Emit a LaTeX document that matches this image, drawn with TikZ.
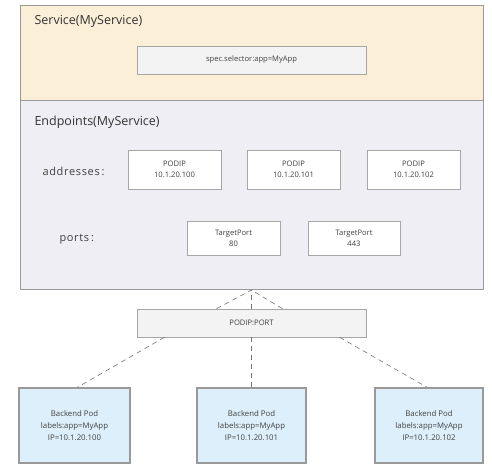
\documentclass[tikz,border=0pt]{standalone}
\usepackage{fontspec}
\setmainfont{Open Sans}
\definecolor{svcfill}{HTML}{FCEFD8}
\definecolor{epfill}{HTML}{EFEEF4}
\definecolor{podfill}{HTML}{DDEFFA}
\definecolor{boxgray}{HTML}{F3F3F3}
\begin{document}
\begin{tikzpicture}[x=1pt,y=-1pt,
  outer/.style={draw=black!40,line width=1.4pt},
  small/.style={draw=black!35,line width=0.6pt,fill=white,align=center,font=\fontsize{7.6}{11}\selectfont,text=black!75,inner sep=0pt},
  pod/.style={draw=black!40,line width=1.6pt,fill=podfill,align=center,font=\fontsize{7.8}{12}\selectfont,text=black!75,inner sep=0pt},
  title/.style={anchor=west,font=\fontsize{12.5}{14}\selectfont,text=black!80},
  lab/.style={anchor=west,font=\fontsize{11}{13}\selectfont\addfontfeature{LetterSpace=6},text=black!75},
  conn/.style={draw=black!55,dashed,dash pattern=on 5pt off 4pt,line width=0.6pt}]
\useasboundingbox (0,0) rectangle (492,470);
\fill[white] (0,0) rectangle (492,470);
\node[outer,fill=svcfill,minimum width=463pt,minimum height=95pt,anchor=north west,inner sep=0pt] (svc) at (20,5) {};
\node[outer,fill=epfill,minimum width=463pt,minimum height=189pt,anchor=north west,inner sep=0pt] (ep) at (20,100) {};
\node[title] (svct) at (31,21) {Service(MyService)};
\node[small,fill=boxgray,minimum width=229pt,minimum height=28pt] (sel) at (251.5,60) {spec.selector:app=MyApp};
\node[title] (ept) at (31,122) {Endpoints(MyService)};
\node[lab] (addr) at (39,171) {addresses\,:};
\node[small,minimum width=93pt,minimum height=39pt] (a1) at (174.5,169.5) {PODIP\\10.1.20.100};
\node[small,minimum width=93pt,minimum height=39pt] (a2) at (293.5,169.5) {PODIP\\10.1.20.101};
\node[small,minimum width=93pt,minimum height=39pt] (a3) at (413.5,169.5) {PODIP\\10.1.20.102};
\node[lab] (ports) at (56,239) {ports\,:};
\node[small,minimum width=93pt,minimum height=34pt] (p1) at (233.5,238) {TargetPort\\80};
\node[small,minimum width=92pt,minimum height=34pt] (p2) at (354,238) {TargetPort\\443};
\node[small,fill=boxgray,minimum width=229pt,minimum height=28pt] (pp) at (251.5,323) {PODIP:PORT};
\coordinate (top) at (251.5,290);
\node[pod,minimum width=111pt,minimum height=75pt] (b1) at (74.5,425.5) {Backend Pod\\labels:app=MyApp\\IP=10.1.20.100};
\node[pod,minimum width=109pt,minimum height=75pt] (b2) at (251.5,425.5) {Backend Pod\\labels:app=MyApp\\IP=10.1.20.101};
\node[pod,minimum width=108pt,minimum height=75pt] (b3) at (429,425.5) {Backend Pod\\labels:app=MyApp\\IP=10.1.20.102};
\draw[conn] ([xshift=-35pt]pp.north) -- (top);
\draw[conn] (pp.north) -- (top);
\draw[conn] ([xshift=31pt]pp.north) -- (top);
\draw[conn] ([xshift=-87pt]pp.south) -- ([xshift=3pt]b1.north);
\draw[conn] (pp.south) -- (b2.north);
\draw[conn] ([xshift=88pt]pp.south) -- ([xshift=-2pt]b3.north);
\end{tikzpicture}
\end{document}
